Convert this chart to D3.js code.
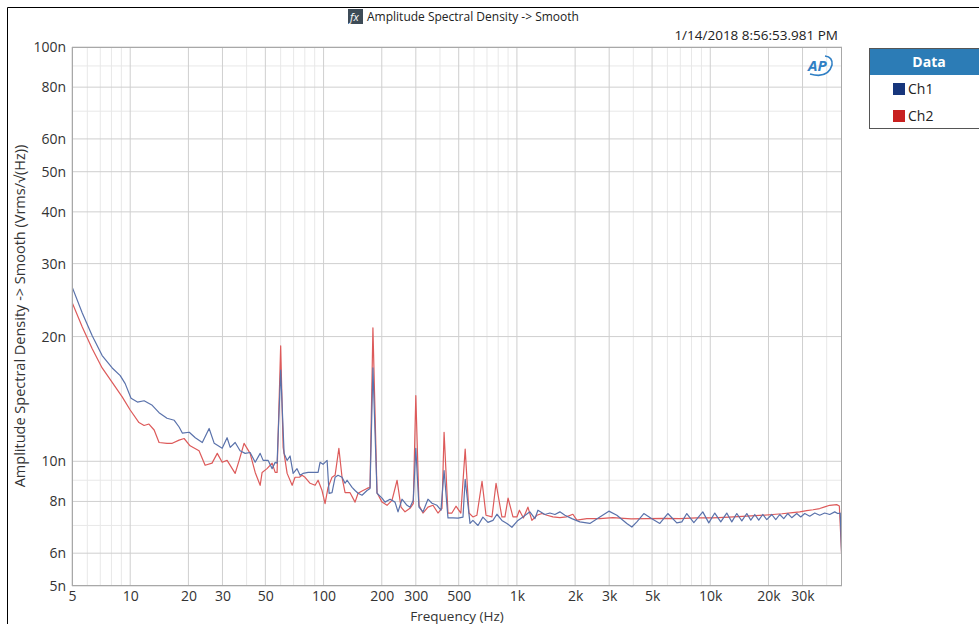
<!DOCTYPE html>
<html><head><meta charset="utf-8">
<script src="https://cdn.jsdelivr.net/npm/d3@7"></script>
<style>
body{margin:0;background:#fff;}
text{font-family:"Open Sans","Noto Sans",sans-serif;}
</style>
</head><body>
<svg id="c" width="979" height="624"></svg>
<script>
// ---- data (frequency in Hz, ASD in nV/√Hz) ----
const ch1Freq=[5,5.65,6.36,7.16,8.07,8.88,9.42,10.1,10.9,11.8,13,14.1,15.5,16.9,17.9,18.6,20.2,21.7,23.6,25.6,27.2,29.9,31.7,32.9,34.9,37,39.3,41.7,44.3,47,48.7,51.7,54.2,56.2,57.5,60,62.5,64.8,67.1,69.6,72.9,75.6,78.3,83.2,88.2,93.7,95.9,99.4,104.3,106.8,110.6,114.7,118.8,124.6,129.2,132.3,140.4,145.5,150.8,158.1,167.8,173.9,180,189,200.6,207.9,220.7,234.2,242.7,254.5,270.1,280,291,300,311.5,326.7,346.7,363.7,386,404.8,420,440,467,496,526,540,572,592,629,667,708,752,788,836,888,942,1012,1074,1167,1239,1284,1395,1481,1572,1668,1771,1924,2116,2384,2685,2989,3288,3703,3930,4172,4533,4986,5483,6031,6713,7126,7559,8222,9148,9824,10550,11330,12170,12920,13710,14560,15450,16200,16990,17810,18680,19600,20800,21810,22870,23990,25160,26380,28000,29370,30800,32690,34700,36810,39080,41460,44010,45610,47000,48000];
const ch1Asd=[26.4,22.8,20.1,18.0,16.8,16.1,15.4,14.2,13.9,14.0,13.65,13.1,12.7,12.56,12.1,11.7,11.75,11.4,11.1,12.0,11.05,10.75,11.4,10.8,11.1,10.6,10.45,10.5,9.95,10.45,10.05,10.05,9.6,9.94,9.9,16.6,10.45,10.05,10.3,9.35,9.6,9.25,9.35,9.4,9.4,9.4,9.94,9.83,10.05,8.37,8.4,9.15,9.25,9.15,8.85,9.0,8.65,8.5,8.37,8.28,8.5,8.6,16.8,8.37,8.15,7.97,8.1,7.97,7.55,8.1,7.83,7.75,8.05,10.75,7.75,7.55,8.1,7.92,7.83,7.62,9.5,7.3,7.3,7.29,7.33,9.05,7.08,7.2,7.0,7.33,7.12,7.2,7.45,7.2,7.08,6.93,7.2,7.34,7.55,7.27,7.62,7.44,7.5,7.44,7.55,7.41,7.27,7.14,7.08,7.34,7.58,7.41,7.08,6.94,7.14,7.48,7.27,7.08,7.48,7.1,7.14,7.48,7.11,7.55,7.1,7.5,7.14,7.5,7.14,7.48,7.18,7.48,7.21,7.44,7.21,7.44,7.23,7.44,7.23,7.44,7.27,7.48,7.31,7.48,7.34,7.48,7.37,7.5,7.41,7.5,7.44,7.55,7.48,7.5,5.6];
const ch2Freq=[5,5.65,6.36,7.16,8.07,9.09,10,11.1,11.8,12.5,13.3,14.1,15.5,16.5,17.9,19,20.4,22.7,24.4,26.5,28.2,29.9,31.7,34.9,36.6,38.8,41.7,44.3,47,48.1,51,54.2,56.2,57.5,60,61.8,64.8,68.8,71.2,75,77.4,80.2,85.2,90.4,93.7,98.2,101.8,105.5,110.6,114.7,120,124.6,129.2,137.1,145.5,150.8,160,167.8,173.9,180,189,200.6,212.9,225.9,240,251.5,263.8,279.9,291,300,311.5,326.7,346.7,368.1,390.6,409.7,420,440,461,484,513,540,565,592,621,660,692,743,780,836,867,900,954,1000,1030,1080,1140,1195,1269,1347,1429,1535,1668,1800,1947,2042,2300,2685,3135,3900,4697,5800,6958,8500,10300,12500,15450,18000,21050,23500,26700,29000,31540,34000,36810,39080,41460,45070,46500,48000];
const ch2Asd=[24.2,21.1,18.7,16.8,15.5,14.3,13.3,12.4,12.2,12.3,11.9,11.1,11.05,11.05,11.25,11.35,10.9,10.6,9.78,9.9,10.45,9.95,10.05,9.35,10.05,11.05,10.45,9.4,8.75,9.4,9.6,9.9,9.4,9.4,19.0,10.8,9.35,8.75,9.15,9.15,9.25,9.15,8.85,8.75,9.0,8.5,7.9,8.65,9.15,9.25,10.75,9.15,8.4,8.4,7.97,8.37,8.5,8.6,8.65,21.0,8.4,7.97,7.83,8.05,9.0,7.75,7.55,7.7,7.9,14.4,7.83,7.5,7.75,7.83,7.5,7.7,11.75,7.5,7.5,7.79,7.5,10.7,7.5,7.34,7.41,8.95,7.41,7.34,8.85,7.34,7.34,8.15,7.34,7.34,7.62,7.3,7.75,7.2,7.41,7.48,7.41,7.34,7.31,7.34,7.45,7.21,7.27,7.27,7.31,7.26,7.27,7.28,7.27,7.3,7.3,7.33,7.37,7.4,7.44,7.47,7.52,7.55,7.6,7.64,7.69,7.76,7.83,7.86,7.8,5.7];
const xTickValues=[5,10,20,30,50,100,200,300,500,1000,2000,3000,5000,10000,20000,30000];
const xTickLabels=["5","10","20","30","50","100","200","300","500","1k","2k","3k","5k","10k","20k","30k"];
const yTickValues=[5,6,8,10,20,30,40,50,60,80,100];
const yTickLabels=["5n","6n","8n","10n","20n","30n","40n","50n","60n","80n","100n"];
const seriesNames=["Ch1","Ch2"];
const seriesColors=["#5a72ab","#dd5a5a"];
const swatchColors=["#17367c","#c8201f"];

// ---- layout ----
const svg=d3.select("#c");
const L=72,T=47,R=842,B=586;
const x=d3.scaleLog().domain([5,48000]).range([L,R]);
const y=d3.scaleLog().domain([5,100]).range([B,T]);

// outer frame
svg.append("path").attr("d","M7.5,624 V7.5 H979").attr("fill","none").attr("stroke","#000").attr("stroke-width",1);

// title
const fx=svg.append("g");
fx.append("rect").attr("x",348).attr("y",9).attr("width",15).attr("height",15).attr("fill","#3d4b57");
fx.append("text").attr("x",350).attr("y",21).attr("fill","#fff").attr("font-size",11).attr("font-style","italic").attr("font-family","DejaVu Serif, serif").text("fx");
svg.append("text").attr("x",367).attr("y",21).attr("font-size",12).attr("fill","#222").text("Amplitude Spectral Density -> Smooth");
svg.append("text").attr("x",838).attr("y",40).attr("text-anchor","end").attr("font-size",13.5).attr("fill","#222").text("1/14/2018 8:56:53.981 PM");

// grid
function gridVals(lo,hi){const v=[];for(let d=1;d<=1e5;d*=10)for(let m=1;m<10;m++){const f=m*d;if(f>=lo&&f<=hi)v.push(f);}return v;}
const xMinor=gridVals(5,48000).filter(v=>!xTickValues.includes(v));
const yMinor=gridVals(5,100).filter(v=>!yTickValues.includes(v));
const g=svg.append("g");
g.selectAll(".xm").data(xMinor).join("line").attr("x1",d=>x(d)).attr("x2",d=>x(d)).attr("y1",T).attr("y2",B).attr("stroke","#e8e8e8");
g.selectAll(".ym").data(yMinor).join("line").attr("y1",d=>y(d)).attr("y2",d=>y(d)).attr("x1",L).attr("x2",R).attr("stroke","#e8e8e8");
g.selectAll(".xM").data(xTickValues).join("line").attr("x1",d=>x(d)).attr("x2",d=>x(d)).attr("y1",T).attr("y2",B).attr("stroke","#cfcfcf");
g.selectAll(".yM").data(yTickValues).join("line").attr("y1",d=>y(d)).attr("y2",d=>y(d)).attr("x1",L).attr("x2",R).attr("stroke","#cfcfcf");

// axes
const xAxis=d3.axisBottom(x).tickValues(xTickValues).tickFormat((d,i)=>xTickLabels[i]).tickSize(0).tickPadding(5);
const xa=svg.append("g").attr("transform",`translate(0,${B})`).call(xAxis);
xa.select(".domain").remove();
xa.selectAll("text").attr("font-size",14).attr("fill","#333").attr("font-family","'Open Sans','Noto Sans',sans-serif");
const yAxis=d3.axisLeft(y).tickValues(yTickValues).tickFormat((d,i)=>yTickLabels[i]).tickSize(0).tickPadding(6);
const ya=svg.append("g").attr("transform",`translate(${L},0)`).call(yAxis);
ya.select(".domain").remove();
ya.selectAll("text").attr("font-size",14).attr("fill","#333").attr("font-family","'Open Sans','Noto Sans',sans-serif");

svg.append("text").attr("x",457).attr("y",621).attr("text-anchor","middle").attr("font-size",13.5).attr("fill","#333").text("Frequency (Hz)");
svg.append("text").attr("transform","translate(25,316) rotate(-90)").attr("text-anchor","middle").attr("font-size",14.5).attr("fill","#333").text("Amplitude Spectral Density -> Smooth (Vrms/√(Hz))");

// lines
svg.append("clipPath").attr("id","clip").append("rect").attr("x",L).attr("y",T).attr("width",R-L).attr("height",B-T);
const line=d3.line().x(d=>x(d[0])).y(d=>y(d[1]));
const series=[d3.zip(ch1Freq,ch1Asd),d3.zip(ch2Freq,ch2Asd)];
const lg=svg.append("g").attr("clip-path","url(#clip)");
[1,0].forEach(i=>{
  lg.append("path").datum(series[i]).attr("d",line).attr("fill","none").attr("stroke",seriesColors[i]).attr("stroke-width",1.2).attr("stroke-linejoin","round");
});

// plot border
svg.append("rect").attr("x",L+0.5).attr("y",T+0.5).attr("width",R-L-1).attr("height",B-T-1).attr("fill","none").attr("stroke","#a8a8a8");

// AP logo
const ap=svg.append("g").attr("transform","translate(808,71)");
ap.append("text").attr("x",0).attr("y",0).attr("font-size",15).attr("font-weight","bold").attr("font-style","italic").attr("fill","#2f7fc4").attr("font-family","Arial, 'Liberation Sans', sans-serif").text("AP");
ap.append("path").attr("d","M2,3 Q20,8 24,-6 Q25,-14 17,-15").attr("fill","none").attr("stroke","#2f7fc4").attr("stroke-width",1.6);

// legend
const lgd=svg.append("g");
lgd.append("rect").attr("x",869.5).attr("y",48.5).attr("width",121).attr("height",80).attr("fill","#fff").attr("stroke","#555");
lgd.append("rect").attr("x",870).attr("y",49).attr("width",120).attr("height",26).attr("fill","#2c7cb6");
lgd.append("text").attr("x",929).attr("y",67).attr("text-anchor","middle").attr("fill","#fff").attr("font-size",14).attr("font-weight","bold").text("Data");
seriesNames.forEach((n,i)=>{
  lgd.append("rect").attr("x",893).attr("y",83+i*27).attr("width",12).attr("height",12).attr("fill",swatchColors[i]);
  lgd.append("text").attr("x",908).attr("y",94+i*27).attr("font-size",14).attr("fill","#222").text(n);
});
</script>
</body></html>
